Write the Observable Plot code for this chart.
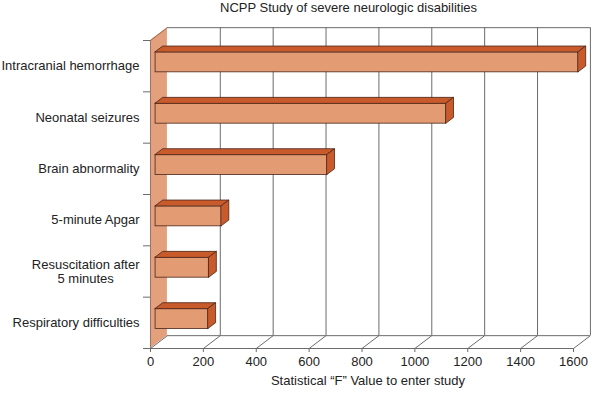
<!DOCTYPE html>
<html>
<head>
<meta charset="utf-8">
<script src="https://cdn.jsdelivr.net/npm/d3@7"></script>
<script src="https://cdn.jsdelivr.net/npm/@observablehq/plot@0.6"></script>
<style>
  body { margin: 0; background: #fff; font-family: "Liberation Sans", Arial, sans-serif; }
  #wrap { position: relative; width: 592px; height: 394px; }
  #title { position: absolute; top: 0; left: 220px; width: 232px; text-align: center; font-size: 13px; color: #222; line-height: 16px; white-space: nowrap; }
</style>
</head>
<body>
<div id="wrap">
  <div id="title">NCPP Study of severe neurologic disabilities</div>
</div>
<script>
// ---- data ----
const categories = [
  "Intracranial hemorrhage",
  "Neonatal seizures",
  "Brain abnormality",
  "5-minute Apgar",
  "Resuscitation after\n5 minutes",
  "Respiratory difficulties"
];
const fValues = [1600, 1100, 650, 250, 203, 200];
const xTicks = [0, 200, 400, 600, 800, 1000, 1200, 1400, 1600];
const xLabel = "Statistical \u201cF\u201d Value to enter study";

// ---- 3D geometry (in scale units) ----
const N = categories.length;
const DX = 64;      // depth offset along x
const DY = 0.25;    // depth offset along y
const F0 = 0.3, F1 = 0.75; // bar depth placement (fraction of depth)
const H = 0.195;    // half bar height

const front = "#E39B74", dark = "#C95A2B", edge = "#4a2618", grid = "#6b6b6b", wall = "#E4A07D";

const rows = categories.map((c, i) => ({cat: c, v: fValues[i], c: N - i - 0.5}));

const frontFaces = rows.map(r => ({
  cat: r.cat, x1: F0 * DX, x2: r.v + F0 * DX, y1: r.c - H + F0 * DY, y2: r.c + H + F0 * DY
}));
const topFaces = rows.flatMap(r => [
  {cat: r.cat, y: r.c + H + F0 * DY, x1: F0 * DX, x2: r.v + F0 * DX},
  {cat: r.cat, y: r.c + H + F1 * DY, x1: F1 * DX, x2: r.v + F1 * DX}
]);
const sideFaces = rows.flatMap(r => [
  {cat: r.cat, x: r.v + F0 * DX, y1: r.c - H + F0 * DY, y2: r.c + H + F0 * DY},
  {cat: r.cat, x: r.v + F1 * DX, y1: r.c - H + F1 * DY, y2: r.c + H + F1 * DY}
]);

const single = rows.filter(r => !r.cat.includes("\n"));
const multi = rows.filter(r => r.cat.includes("\n"));

// measure first line width for centered multi-line labels
const ctx = document.createElement("canvas").getContext("2d");
ctx.font = '13px "Liberation Sans", Arial, sans-serif';
const firstW = multi.length ? ctx.measureText(multi[0].cat.split("\n")[0]).width : 0;

const xMax = xTicks[xTicks.length - 1];

const chart = Plot.plot({
  width: 592,
  height: 394,
  marginLeft: 150,
  marginRight: 19,
  marginTop: 40,
  marginBottom: 46,
  style: {fontFamily: '"Liberation Sans", Arial, sans-serif', fontSize: "13px", color: "#222", background: "transparent"},
  x: {domain: [0, xMax]},
  y: {domain: [0, N]},
  marks: [
    // left wall
    Plot.areaY([{x: 0, y1: 0, y2: N}, {x: DX, y1: DY, y2: N + DY}], {x: "x", y1: "y1", y2: "y2", fill: wall}),
    Plot.ruleX([0], {y1: 0, y2: N, stroke: "#8a6a5a", strokeWidth: 0.8}),
    Plot.link([0], {x1: 0, y1: N, x2: DX, y2: N + DY, stroke: "#8a5a40", strokeWidth: 0.8}),
    // back wall grid
    Plot.ruleX(xTicks.slice(1), {x: d => d + DX, y1: DY, y2: N + DY, stroke: grid, strokeWidth: 1}),
    Plot.ruleY([N + DY], {x1: DX, x2: xMax + DX, stroke: grid, strokeWidth: 1}),
    Plot.ruleY([DY], {x1: DX, x2: xMax + DX, stroke: grid, strokeWidth: 1}),
    // floor
    Plot.link(xTicks, {x1: d => d, y1: 0, x2: d => d + DX, y2: DY, stroke: grid, strokeWidth: 1}),
    Plot.ruleY([0], {x1: 0, x2: xMax, stroke: grid, strokeWidth: 1.2}),
    // bars
    Plot.rect(frontFaces, {x1: "x1", x2: "x2", y1: "y1", y2: "y2", fill: front, stroke: edge, strokeWidth: 0.8}),
    Plot.areaX(topFaces, {y: "y", x1: "x1", x2: "x2", z: "cat", fill: dark, stroke: edge, strokeWidth: 0.8}),
    Plot.areaY(sideFaces, {x: "x", y1: "y1", y2: "y2", z: "cat", fill: dark, stroke: edge, strokeWidth: 0.8}),
    // axes
    Plot.axisX({ticks: xTicks, tickSize: 4, tickPadding: 4, tickFormat: d => String(d), fontSize: 13, label: null, stroke: grid, fill: "#222"}),
    Plot.axisY({ticks: d3.range(0, N + 1), tickSize: 7, tickFormat: () => "", label: null, stroke: grid}),
    // category labels
    Plot.text(single, {x: 0, y: "c", text: "cat", textAnchor: "end", dx: -11, fontSize: 13, fill: "#222"}),
    Plot.text(multi, {x: 0, y: "c", text: "cat", textAnchor: "middle", dx: -11 - firstW / 2, fontSize: 13, lineHeight: 1.1, fill: "#222"}),
    // x label
    Plot.text([xLabel], {frameAnchor: "bottom", dy: 36, dx: 6, fontSize: 13, fill: "#222"})
  ]
});
document.getElementById("wrap").prepend(chart);
</script>
</body>
</html>
